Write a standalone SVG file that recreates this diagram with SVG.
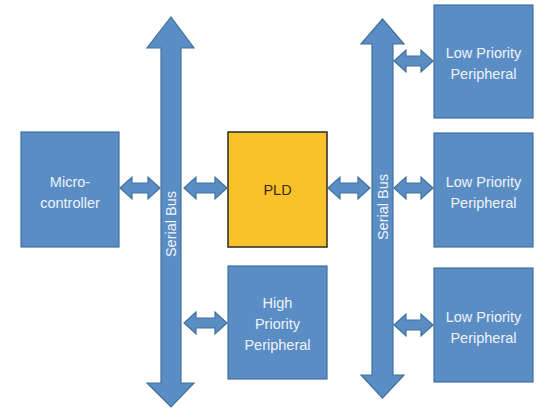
<svg xmlns="http://www.w3.org/2000/svg" width="559" height="417" viewBox="0 0 559 417">
<style>
.blk{fill:#5b8dc5;stroke:#41719c;stroke-width:1.2}
.pld{fill:#f9c22b;stroke:#2a2a2a;stroke-width:1.5}
.t{font-family:"Liberation Sans",Arial,sans-serif;font-size:14.5px;fill:#eef3fa;text-anchor:middle}
.td{font-family:"Liberation Sans",Arial,sans-serif;font-size:14.5px;fill:#3a2e10;text-anchor:middle}
.arr{fill:#5b8dc5;stroke:#41719c;stroke-width:1.2}
</style>
<rect width="559" height="417" fill="#ffffff"/>
<g id="bus-left">
<path class="blk" d="M171 17 L194 48 L181 48 L181 383 L194 383 L171 407 L147 383 L161 383 L161 48 L147 48 Z"/>
<text class="t" transform="translate(176 224) rotate(-90)">Serial Bus</text>
</g>
<g id="bus-right">
<path class="blk" d="M382.5 19 L404 44 L393 44 L393 375 L404 375 L382.5 398 L361 375 L372 375 L372 44 L361 44 Z"/>
<text class="t" transform="translate(388 207) rotate(-90)">Serial Bus</text>
</g>
<g id="microcontroller">
<rect class="blk" x="21" y="132" width="98" height="115"/>
<text class="t" x="70" y="187">Micro-</text>
<text class="t" x="70" y="208">controller</text>
</g>
<g id="pld">
<rect class="pld" x="228" y="132" width="99" height="115"/>
<text class="td" x="277.5" y="195">PLD</text>
</g>
<g id="high-priority">
<rect class="blk" x="228" y="266" width="99" height="113"/>
<text class="t" x="277.5" y="308">High</text>
<text class="t" x="277.5" y="329">Priority</text>
<text class="t" x="277.5" y="350">Peripheral</text>
</g>
<g id="low-priority-1">
<rect class="blk" x="434" y="5" width="99" height="113"/>
<text class="t" x="483.5" y="58">Low Priority</text>
<text class="t" x="483.5" y="79">Peripheral</text>
</g>
<g id="low-priority-2">
<rect class="blk" x="434" y="133" width="99" height="114"/>
<text class="t" x="483.5" y="187">Low Priority</text>
<text class="t" x="483.5" y="208">Peripheral</text>
</g>
<g id="low-priority-3">
<rect class="blk" x="434" y="268" width="99" height="114"/>
<text class="t" x="483.5" y="322">Low Priority</text>
<text class="t" x="483.5" y="343">Peripheral</text>
</g>
<g id="connectors">
<path class="arr" d="M120 188 L132 177 L132 183 L148 183 L148 177 L160 188 L148 199 L148 193 L132 193 L132 199 Z"/>
<path class="arr" d="M184 188 L196 177 L196 183 L215 183 L215 177 L227 188 L215 199 L215 193 L196 193 L196 199 Z"/>
<path class="arr" d="M328 188 L340 177 L340 183 L358 183 L358 177 L370 188 L358 199 L358 193 L340 193 L340 199 Z"/>
<path class="arr" d="M394 188 L406 177 L406 183 L421 183 L421 177 L433 188 L421 199 L421 193 L406 193 L406 199 Z"/>
<path class="arr" d="M394 61 L406 50 L406 56 L421 56 L421 50 L433 61 L421 72 L421 66 L406 66 L406 72 Z"/>
<path class="arr" d="M184 323 L196 312 L196 318 L215 318 L215 312 L227 323 L215 334 L215 328 L196 328 L196 334 Z"/>
<path class="arr" d="M394 325 L406 314 L406 320 L421 320 L421 314 L433 325 L421 336 L421 330 L406 330 L406 336 Z"/>
</g>
</svg>
